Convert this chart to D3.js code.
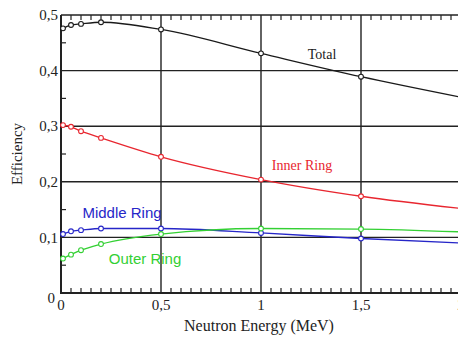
<!DOCTYPE html>
<html>
<head>
<meta charset="utf-8">
<script src="https://cdn.jsdelivr.net/npm/d3@7"></script>
<style>
  html, body { margin: 0; padding: 0; background: #fff; overflow: hidden; }
  svg { display: block; }
</style>
</head>
<body>
<svg id="chart" width="458" height="338"></svg>
<script>
// Neutron energies (MeV) at which the efficiencies were computed
const energies = [0.01, 0.05, 0.1, 0.2, 0.5, 1, 1.5, 2];

// Detection efficiency per ring and in total
const totalEff  = [0.476, 0.482, 0.484, 0.487, 0.474, 0.431, 0.389, 0.352];
const innerEff  = [0.302, 0.299, 0.291, 0.279, 0.245, 0.204, 0.174, 0.152];
const middleEff = [0.106, 0.111, 0.113, 0.116, 0.116, 0.108, 0.098, 0.090];
const outerEff  = [0.062, 0.069, 0.077, 0.088, 0.106, 0.116, 0.115, 0.110];

const seriesNames = ["Total", "Inner Ring", "Middle Ring", "Outer Ring"];

const xTickValues = [0, 0.5, 1, 1.5, 2];
const xTickLabels = ["0", "0,5", "1", "1,5", "2"];
const yTickValues = [0, 0.1, 0.2, 0.3, 0.4, 0.5];
const yTickLabels = ["0", "0,1", "0,2", "0,3", "0,4", "0,5"];

const svg = d3.select("#chart");
const x = d3.scaleLinear().domain([0, 2]).range([61, 461]);
const y = d3.scaleLinear().domain([0, 0.5]).range([293, 15]);

const serif = "'Liberation Serif', 'Times New Roman', serif";
const sans = "'Liberation Sans', Arial, sans-serif";
const gridColor = "#222";

// Major grid lines
svg.append("g").selectAll("line.h").data(yTickValues).join("line")
  .attr("x1", x(0)).attr("x2", x(2))
  .attr("y1", d => y(d)).attr("y2", d => y(d))
  .attr("stroke", gridColor).attr("stroke-width", 1.4);
svg.append("g").selectAll("line.v").data(xTickValues).join("line")
  .attr("x1", d => x(d)).attr("x2", d => x(d))
  .attr("y1", y(0)).attr("y2", y(0.5))
  .attr("stroke", gridColor).attr("stroke-width", 1.4);

// Minor ticks pointing into the plot
const xMinor = d3.range(0.05, 2, 0.05).filter(v => Math.abs(v * 2 - Math.round(v * 2)) > 1e-6);
const yMinor = [0.05, 0.15, 0.25, 0.35, 0.45];
const ticks = svg.append("g").attr("stroke", gridColor).attr("stroke-width", 1.2);
ticks.selectAll("line.b").data(xMinor).join("line")
  .attr("x1", d => x(d)).attr("x2", d => x(d))
  .attr("y1", y(0)).attr("y2", y(0) - 5);
ticks.selectAll("line.t").data(xMinor).join("line")
  .attr("x1", d => x(d)).attr("x2", d => x(d))
  .attr("y1", y(0.5)).attr("y2", y(0.5) + 5);
ticks.selectAll("line.l").data(yMinor).join("line")
  .attr("x1", x(0)).attr("x2", x(0) + 5)
  .attr("y1", d => y(d)).attr("y2", d => y(d));

// Heavier frame on the left and bottom
svg.append("line").attr("x1", x(0)).attr("x2", x(0)).attr("y1", y(0) + 1).attr("y2", y(0.5))
  .attr("stroke", gridColor).attr("stroke-width", 2);
svg.append("line").attr("x1", x(0)).attr("x2", x(2)).attr("y1", y(0)).attr("y2", y(0))
  .attr("stroke", gridColor).attr("stroke-width", 2);

// Tick labels
svg.append("g").selectAll("text").data(yTickValues).join("text")
  .attr("x", (d, i) => i === 0 ? 55 : 58)
  .attr("y", (d, i) => y(d) + (i === 0 ? 5 : 0))
  .attr("dy", "0.35em")
  .attr("text-anchor", "end")
  .attr("font-family", serif).attr("font-size", 15).attr("fill", "#222")
  .text((d, i) => yTickLabels[i]);
svg.append("g").selectAll("text").data(xTickValues).join("text")
  .attr("x", d => x(d)).attr("y", y(0) + 17)
  .attr("text-anchor", "middle")
  .attr("font-family", serif).attr("font-size", 15).attr("fill", "#222")
  .text((d, i) => xTickLabels[i]);

// Axis titles
svg.append("text")
  .attr("x", 259).attr("y", 331)
  .attr("text-anchor", "middle")
  .attr("font-family", serif).attr("font-size", 16).attr("fill", "#222")
  .text("Neutron Energy (MeV)");
svg.append("text")
  .attr("transform", "translate(22,154) rotate(-90)")
  .attr("text-anchor", "middle")
  .attr("font-family", serif).attr("font-size", 15).attr("fill", "#222")
  .text("Efficiency");

// Efficiency curves with open markers
const series = [
  { name: seriesNames[0], values: totalEff,  color: "#1a1a1a", label: [322, 59], font: serif, size: 14 },
  { name: seriesNames[1], values: innerEff,  color: "#e8262f", label: [302, 170], font: serif, size: 14 },
  { name: seriesNames[2], values: middleEff, color: "#2626c8", label: [122, 218], font: sans, size: 15 },
  { name: seriesNames[3], values: outerEff,  color: "#33d033", label: [145, 264], font: sans, size: 15 }
];

const line = d3.line()
  .x((d, i) => x(energies[i]))
  .y(d => y(d))
  .curve(d3.curveMonotoneX);

series.forEach(s => {
  const g = svg.append("g");
  g.append("path").attr("d", line(s.values))
    .attr("fill", "none").attr("stroke", s.color).attr("stroke-width", 1.3);
  g.selectAll("circle").data(s.values).join("circle")
    .attr("cx", (d, i) => x(energies[i])).attr("cy", d => y(d))
    .attr("r", 2.4)
    .attr("fill", "#fff").attr("stroke", s.color).attr("stroke-width", 1.1);
  g.append("text")
    .attr("x", s.label[0]).attr("y", s.label[1])
    .attr("text-anchor", "middle")
    .attr("font-family", s.font).attr("font-size", s.size).attr("fill", s.color)
    .text(s.name);
});
</script>
</body>
</html>
